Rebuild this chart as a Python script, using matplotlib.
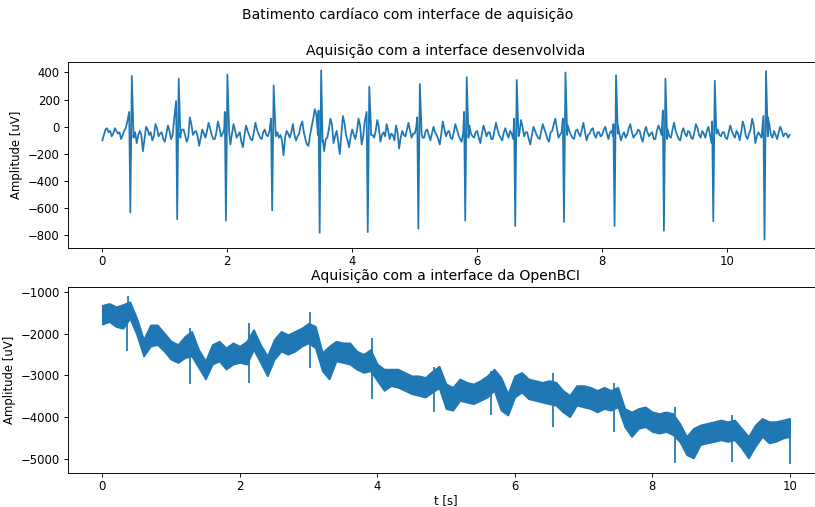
import numpy as np
import matplotlib
matplotlib.use("Agg")
import matplotlib.pyplot as plt
from matplotlib.ticker import MultipleLocator

# --- top: developed interface (baseline sampled every 0.025 s, 0..11 s) ---
top_base = [
    -100, -60, -20, -10, -40, -30, -70, -50, -10, -30, -50, -40, -90, -60, -30, -10, 40, 80, -20, -60,
    -80, -40, -120, -60, -30, -60, -180, -90, 0, -20, -60, -40, -100, -70, 20, -10, -70, -50, -40, -90,
    -110, -50, 10, -30, -90, -60, 60, 90, -40, -70, -50, -20, -20, -60, -110, -80, 70, 20, -60, -40,
    -30, -70, -140, -80, -20, -50, -80, -30, 30, -10, -60, -90, -90, -40, 40, -10, -70, -50, -20, -60,
    -60, -100, -130, -50, 20, -30, -80, -60, -40, -110, -150, -60, 10, -30, -60, -90, -100, -40, 30, -20,
    -50, -80, -90, -40, -20, -60, -70, -30, 0, -60, -120, -70, -40, -80, -60, -100, -210, -80, -30, -50,
    -80, -40, 20, -60, -100, -70, -50, 10, 40, -40, -90, -130, -140, -60, 0, 60, 130, 90, -60, -80,
    -50, -110, -180, -90, -80, -20, 60, 20, -120, -70, -30, -110, -200, -60, 80, 30, -60, -100, -150, -70,
    -20, -60, -90, -30, 60, 10, -130, -70, 40, -20, -70, -50, -20, -60, -80, -30, 50, 0, -110, -60,
    -40, -70, 20, -30, -90, -50, -60, -100, 10, -40, -160, -80, -30, -60, -70, -20, 30, -30, -80, -50,
    -50, 0, 100, 20, -40, -80, -80, -30, -20, -60, -100, -50, 0, -40, -60, -90, -130, -50, 40, -20,
    -70, -40, -30, -80, -90, -40, 20, -20, -60, -90, -110, -50, -20, -40, 60, 10, -50, -70, -80, -40,
    -30, -80, -120, -50, 10, -30, -70, -40, -40, -90, -90, -30, 30, -20, -60, -80, -100, -40, -10, -50,
    -80, -30, -50, -90, -20, -60, -110, -50, 50, 0, -70, -40, -40, -90, -130, -60, 0, -30, -60, -80,
    -90, -30, 20, -20, -50, -90, -110, -40, -30, 20, 60, -10, -80, -60, -40, -90, -120, -50, 10, -30,
    -60, -80, -90, -30, -20, -50, -70, -20, 30, -40, -100, -60, -50, -20, -10, -60, -80, -40, -40, -70,
    -60, -20, 0, -50, -90, -40, -30, -70, -70, -20, 10, -50, -100, -60, -40, -80, -60, -10, 20, -40,
    -80, -60, -50, -20, -30, -80, -110, -40, 0, -40, -70, -50, -40, -90, -90, -30, 10, -20, -60, -80,
    -50, -30, -20, -70, -80, -20, 30, -30, -60, -90, -100, -40, -10, -50, -70, -30, -40, -80, -90, -40,
    20, -10, -60, -80, -30, -50, -80, -30, 0, -60, -120, -70, -50, -20, -20, -60, -70, -40, -40, -80,
    -90, -40, 10, -30, -60, -80, -30, -50, -100, -40, 40, 0, -70, -90, -50, -20, 60, 10, -120, -70,
    -40, -60, -80, -30, -20, -50, 70, 20, -60, -80, -30, -60, -90, -40, 0, -30, -70, -50, -50, -80,
    -60,
]
beat_t = [0.46, 1.21, 1.99, 2.73, 3.49, 4.26, 5.07, 5.82, 6.62, 7.40, 8.21, 9.00, 9.79, 10.61]
beat_pre = [110, 190, 110, 60, 120, 110, 70, 110, 60, 60, 20, 120, 40, 80]
beat_s = [-630, -680, -690, -615, -780, -775, -750, -690, -730, -700, -730, -765, -695, -830]
beat_r = [375, 355, 385, 305, 415, 295, 315, 365, 345, 400, 380, 355, 340, 410]
beat_post = [-60, -80, -40, -30, -100, -60, -50, -80, -70, -60, -50, -90, -50, -70]

# --- bottom: OpenBCI interface, band envelope every 0.1 s, 0..10 s ---
bot_upper = [
    -1320, -1275, -1355, -1300, -1235, -1630, -2140, -1790, -1790, -1985,
    -2180, -2260, -2065, -1945, -2380, -2655, -2260, -2180, -2340, -2220,
    -2300, -2180, -1905, -2260, -2535, -2140, -1945, -2025, -1945, -1865,
    -1750, -1825, -2455, -2300, -2180, -2220, -2220, -2415, -2495, -2380,
    -2730, -2850, -2850, -2850, -2930, -3010, -3010, -3050, -2900, -2780,
    -3205, -3285, -3085, -3165, -3205, -3125, -3010, -2850, -3050, -3440,
    -3010, -2930, -3085, -3125, -3165, -3125, -3165, -3360, -3480, -3245,
    -3245, -3285, -3360, -3285, -3360, -3285, -3795, -3875, -3795, -3755,
    -3875, -3915, -3875, -3915, -4150, -4465, -4270, -4190, -4150, -4110,
    -4070, -4110, -4070, -4270, -4465, -4190, -4030, -4110, -4110, -4070,
    -4030,
]
bot_lower = [
    -1770, -1710, -1830, -1870, -1630, -2020, -2535, -2300, -2260, -2420,
    -2615, -2690, -2575, -2535, -2810, -3085, -2730, -2655, -2850, -2730,
    -2690, -2730, -2380, -2690, -3010, -2615, -2420, -2495, -2420, -2300,
    -2220, -2340, -2890, -3085, -2655, -2690, -2730, -2850, -2930, -2890,
    -3125, -3360, -3245, -3285, -3360, -3440, -3480, -3520, -3400, -3300,
    -3795, -3835, -3600, -3640, -3680, -3600, -3520, -3360, -3835, -3950,
    -3520, -3400, -3560, -3600, -3640, -3680, -3715, -3875, -3990, -3715,
    -3755, -3795, -3875, -3795, -3835, -3755, -4230, -4465, -4270, -4230,
    -4345, -4385, -4345, -4420, -4585, -4900, -4980, -4660, -4620, -4585,
    -4545, -4585, -4545, -4740, -4980, -4700, -4465, -4620, -4580, -4505,
    -4465,
]
spike_t = [0.36, 0.38, 1.27, 2.14, 3.02, 3.92, 4.82, 5.66, 6.55, 7.44, 8.33, 9.16, 10.0]
spike_hi = [-1600, -1095, -1865, -1750, -1490, -2100, -2800, -2905, -2950, -3190, -3770, -3950, -4100]
spike_lo = [-2420, -1700, -3205, -3190, -2825, -3560, -3875, -3950, -4230, -4350, -5095, -5080, -5135]

color = "#1f77b4"

# build top trace
t_base = np.arange(len(top_base)) * 0.025
v_base = np.array(top_base, dtype=float)
bt = np.array(beat_t)
keep = np.min(np.abs(t_base[:, None] - bt[None, :]), axis=1) > 0.035
t_top = np.concatenate([t_base[keep], bt - 0.03, bt - 0.012, bt + 0.012, bt + 0.04])
v_top = np.concatenate([v_base[keep], beat_pre, beat_s, beat_r, beat_post])
order = np.argsort(t_top)
t_top, v_top = t_top[order], v_top[order]

t_bot = np.arange(len(bot_upper)) * 0.1

dpi = 84
fig = plt.figure(figsize=(816 / dpi, 507 / dpi), dpi=dpi)
fig.suptitle("Batimento cardíaco com interface de aquisição", y=0.985)

# the right edge of both axes lies just past the picture's border
ax1 = fig.add_axes([0.0833, 0.5108, 0.9265, 0.3669])
ax1.plot(t_top, v_top, color=color, lw=1.5)
ax1.set_title("Aquisição com a interface desenvolvida")
ax1.set_ylabel("Amplitude [uV]")
ax1.yaxis.set_major_locator(MultipleLocator(200))

ax2 = fig.add_axes([0.0833, 0.0671, 0.9265, 0.3669])
ax2.fill_between(t_bot, bot_lower, bot_upper, color=color, lw=1.5, edgecolor=color)
ax2.vlines(spike_t, spike_lo, spike_hi, color=color, lw=1.5)
ax2.set_title("Aquisição com a interface da OpenBCI")
ax2.set_ylabel("Amplitude [uV]")
ax2.set_xlabel("t [s]", labelpad=1)
ax2.set_xlim(-0.5, 10.5)
ax2.set_ylim(-5340, -880)
ax2.yaxis.set_major_locator(MultipleLocator(1000))

for ax in (ax1, ax2):
    ax.tick_params(axis="x", pad=2.5)

fig.savefig("out.png", dpi=dpi)
